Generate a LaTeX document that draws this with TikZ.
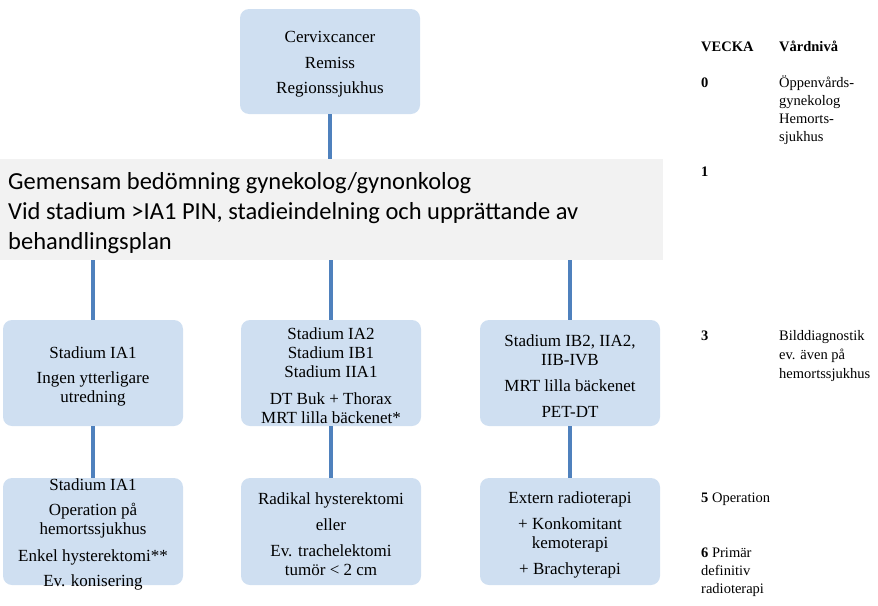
\documentclass[tikz,border=0pt]{standalone}
\usepackage{fontspec}
\setmainfont{Liberation Serif}
\newfontfamily\calfont{Carlito}
\definecolor{boxblue}{RGB}{207,223,241}
\definecolor{linkblue}{RGB}{79,129,189}
\definecolor{bandgray}{RGB}{242,242,242}
\begin{document}
\begin{tikzpicture}[x=1pt,y=-1pt,
  boxnode/.style={rectangle, fill=boxblue, rounded corners=9pt, draw=none, inner sep=0pt,
    minimum width=180pt, minimum height=106pt},
  boxtext/.style={align=center, inner sep=0pt, yshift=-3pt, font=\fontsize{17}{19}\selectfont},
  bandtext/.style={anchor=base west, inner sep=0pt, font=\calfont\fontsize{24.5}{30}\selectfont},
  side/.style={anchor=base west, inner sep=0pt, font=\fontsize{14.5}{17.5}\selectfont},
  sidebold/.style={side, font=\bfseries\fontsize{14.5}{17.5}\selectfont},
  link/.style={draw=linkblue, line width=3.6pt}]
\useasboundingbox (0,0) rectangle (878,605);
% top box
\node[boxnode, minimum height=105pt] (top) at (330,61.5) {};
\node[boxtext] (topt) at (top) {Cervixcancer\\[6.5pt]Remiss\\[6.5pt]Regionssjukhus};
% band
\node[rectangle, fill=bandgray, draw=none, inner sep=0pt, minimum width=663pt, minimum height=101pt, anchor=north west] (band) at (0,159) {};
\node[bandtext] (band1) at (8,189.5) {Gemensam bedömning gynekolog/gynonkolog};
\node[bandtext] (band2) at (8,219.5) {Vid stadium >IA1 PIN, stadieindelning och upprättande av};
\node[bandtext] (band3) at (8,249.5) {behandlingsplan};
% row 2
\node[boxnode] (a2) at (93,373) {};
\node[boxnode] (b2) at (331,373) {};
\node[boxnode] (c2) at (570,373) {};
\node[boxtext] (a2t) at (a2) {Stadium IA1\\[6pt]Ingen ytterligare\\utredning};
\node[boxtext] (b2t) at (b2) {Stadium IA2\\Stadium IB1\\Stadium IIA1\\[8pt]DT Buk + Thorax\\MRT lilla bäckenet*};
\node[boxtext] (c2t) at (c2) {Stadium IB2, IIA2,\\IIB-IVB\\[7pt]MRT lilla bäckenet\\[7pt]PET-DT};
% row 3
\node[boxnode, minimum height=107pt] (a3) at (93,531.5) {};
\node[boxnode, minimum height=107pt] (b3) at (331,531.5) {};
\node[boxnode, minimum height=107pt] (c3) at (570,531.5) {};
\node[boxtext] (a3t) at (a3) {Stadium IA1\\[6pt]Operation på\\hemortssjukhus\\[8pt]Enkel hysterektomi**\\[6pt]Ev. konisering};
\node[boxtext] (b3t) at (b3) {Radikal hysterektomi\\[7pt]eller\\[7pt]Ev. trachelektomi\\tumör < 2 cm};
\node[boxtext] (c3t) at (c3) {Extern radioterapi\\[7pt]+ Konkomitant\\kemoterapi\\[7pt]+ Brachyterapi};
% connectors
\draw[link] (top.south) -- (top.south |- band.north);
\draw[link] (a2.north |- band.south) -- (a2.north);
\draw[link] (b2.north |- band.south) -- (b2.north);
\draw[link] (c2.north |- band.south) -- (c2.north);
\draw[link] (a2.south) -- (a3.north);
\draw[link] (b2.south) -- (b3.north);
\draw[link] (c2.south) -- (c3.north);
% side column
\node[sidebold] (hv) at (701,51) {VECKA};
\node[sidebold] (hn) at (779,51) {Vårdnivå};
\node[sidebold] (w0) at (701,87) {0};
\node[side] (n0a) at (779,87) {Öppenvårds-};
\node[side] (n0b) at (779,105) {gynekolog};
\node[side] (n0c) at (779,123) {Hemorts-};
\node[side] (n0d) at (779,141) {sjukhus};
\node[sidebold] (w1) at (701,176) {1};
\node[sidebold] (w3) at (701,340) {3};
\node[side] (n3a) at (779,340) {Bilddiagnostik};
\node[side] (n3b) at (779,359) {ev. även på};
\node[side] (n3c) at (779,378) {hemortssjukhus};
\node[side] (w5) at (701,502) {\textbf{5} Operation};
\node[side] (w6a) at (701,557) {\textbf{6} Primär};
\node[side] (w6b) at (701,575) {definitiv};
\node[side] (w6c) at (701,593) {radioterapi};
\end{tikzpicture}
\end{document}
